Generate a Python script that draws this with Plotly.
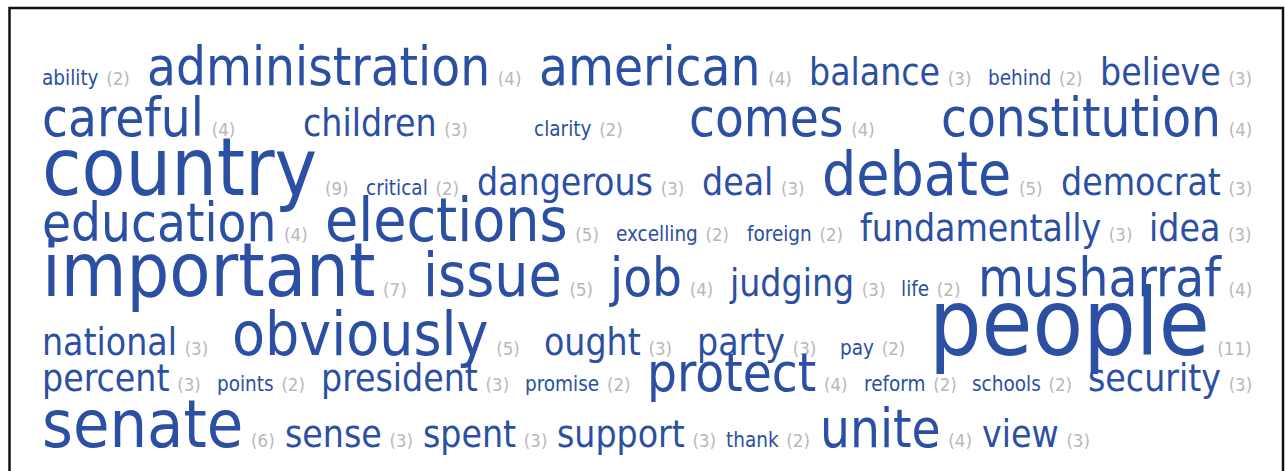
import plotly.graph_objects as go

# tag cloud: word, number of occurrences
words = ["ability", "administration", "american", "balance", "behind", "believe",
         "careful", "children", "clarity", "comes", "constitution",
         "country", "critical", "dangerous", "deal", "debate", "democrat",
         "education", "elections", "excelling", "foreign", "fundamentally", "idea",
         "important", "issue", "job", "judging", "life", "musharraf",
         "national", "obviously", "ought", "party", "pay", "people",
         "percent", "points", "president", "promise", "protect", "reform", "schools", "security",
         "senate", "sense", "spent", "support", "thank", "unite", "view"]
counts = [2, 4, 4, 3, 2, 3,
          4, 3, 2, 4, 4,
          9, 2, 3, 3, 5, 3,
          4, 5, 2, 2, 3, 3,
          7, 5, 4, 3, 2, 4,
          3, 5, 3, 3, 2, 11,
          3, 2, 3, 2, 4, 2, 2, 3,
          6, 3, 3, 3, 2, 4, 3]
row_lengths = [6, 5, 6, 6, 6, 6, 8, 7]

W, H = 1285, 471
LEFT, RIGHT = 42, 1252
baselines = [85, 136, 195, 241, 296, 355, 391, 447]
size_for = {2: 20.5, 3: 37, 4: 52.5, 5: 60, 6: 66, 7: 75, 9: 80, 11: 92}
COUNT_SIZE = 18.5
SPACER = 27
GAP_LAST = 10
BLUE = "#2B4FA3"
GREY = "#B8B8B8"
FONT = "DejaVu Sans Condensed, DejaVu Sans, sans-serif"
DESC = 0.236

# DejaVu Sans advance widths (units of 1/2048 em), condensed ~0.9
ADV = {" ": 651, "\u00a0": 651, "(": 799, ")": 799,
       "a": 1255, "b": 1300, "c": 1126, "d": 1300, "e": 1260, "f": 721, "g": 1300,
       "h": 1298, "i": 569, "j": 569, "k": 1186, "l": 569, "m": 1995, "n": 1298,
       "o": 1253, "p": 1300, "q": 1300, "r": 842, "s": 1067, "t": 803, "u": 1298,
       "v": 1212, "w": 1675, "x": 1212, "y": 1212, "z": 1075}
COND = 0.9


def text_w(s, size):
    return sum(ADV.get(ch, 1303) for ch in s) / 2048 * COND * size


fig = go.Figure()

i = 0
for r, n in enumerate(row_lengths):
    items = list(zip(words[i:i + n], counts[i:i + n]))
    i += n
    tails = ["(%d)" % c for _, c in items]
    widths = [text_w(w, size_for[c]) + text_w("\u00a0", SPACER) + text_w(t, COUNT_SIZE)
              for (w, c), t in zip(items, tails)]
    last = r == len(row_lengths) - 1
    gap = GAP_LAST if last else (RIGHT - LEFT - sum(widths)) / (n - 1)
    x = LEFT
    for k, ((w, c), t, wd) in enumerate(zip(items, tails, widths)):
        fs = size_for[c]
        if last or k == 0:
            xa, xp = "left", x
        elif k == n - 1:
            xa, xp = "right", RIGHT
        else:
            xa, xp = "center", x + wd / 2
        fig.add_annotation(
            x=xp, y=baselines[r] + DESC * max(fs, SPACER),
            xref="x", yref="y", xanchor=xa, yanchor="bottom",
            text=(f"{w}<span style='font-size:{SPACER}px'>\u00a0</span>"
                  f"<span style='font-size:{COUNT_SIZE}px;color:{GREY}'>{t}</span>"),
            font=dict(size=fs, color=BLUE, family=FONT),
            showarrow=False, borderpad=0, borderwidth=0,
        )
        x += wd + gap

# frame (bottom edge runs off the page)
fig.add_shape(type="rect", x0=9.5, x1=1283, y0=8, y1=520, xref="x", yref="y",
              line=dict(color="#111111", width=2.5), layer="below")

fig.update_layout(
    width=W, height=H,
    margin=dict(l=0, r=0, t=0, b=0),
    paper_bgcolor="white", plot_bgcolor="white",
    xaxis=dict(range=[0, W], visible=False, fixedrange=True),
    yaxis=dict(range=[H, 0], visible=False, fixedrange=True),
    showlegend=False,
)

# no page margin, so the figure fills the window exactly
fig.write_html("out.html", config={"displayModeBar": False},
               post_script="document.body.style.margin='0';document.body.style.overflow='hidden';")
